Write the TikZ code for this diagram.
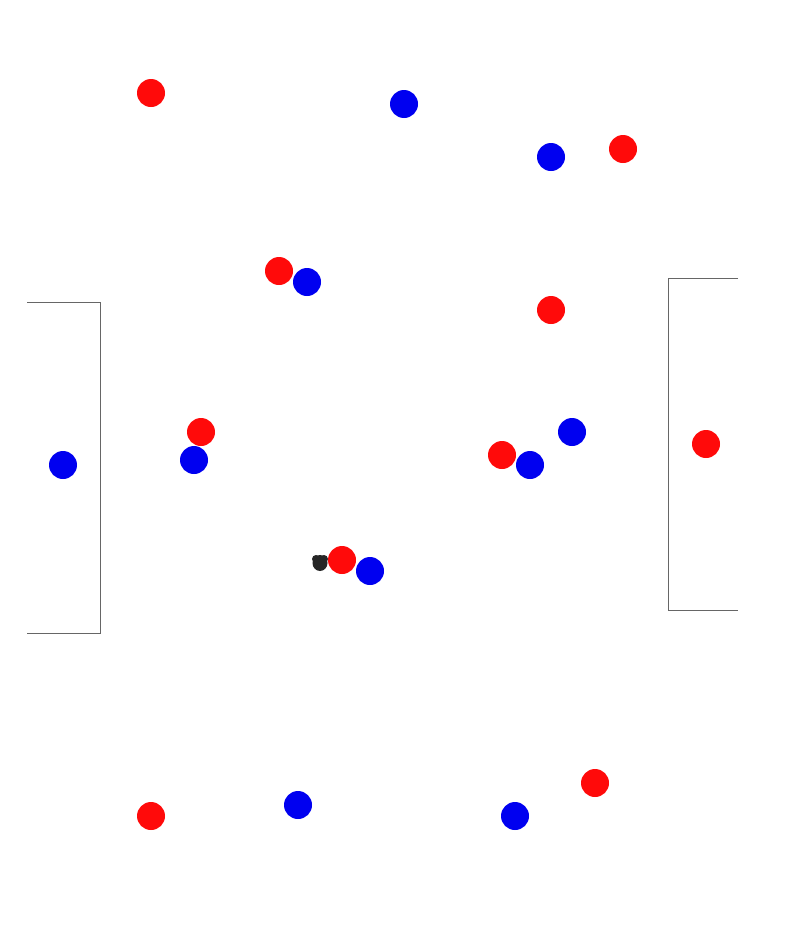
\documentclass[tikz,border=0pt]{standalone}
\usepackage{tikz,xcolor}
\definecolor{teamred}{RGB}{255,10,10}
\definecolor{teamblue}{RGB}{0,0,240}
\tikzset{redplayer/.style={circle,fill=teamred,inner sep=0pt,minimum size=28pt},
 blueplayer/.style={circle,fill=teamblue,inner sep=0pt,minimum size=28pt}}

\begin{document}
\begin{tikzpicture}[x=1pt,y=-1pt]
 \useasboundingbox[fill=white] (0,0) rectangle (797,929);
 % penalty boxes
 \draw[gray!80!black,line width=0.8pt] (27,302)--(100,302)--(100,633)--(27,633);
 \draw[gray!80!black,line width=0.8pt] (738,278)--(668,278)--(668,610)--(738,610);
 % players
 \foreach \x/\y [count=\i] in {151/93,623/149,279/271,551/310,201/432,502/455,706/444,342/560,151/816,595/783} \node[redplayer] (r\i) at (\x,\y) {};
 \foreach \x/\y [count=\i] in {404/104,551/157,307/282,63/465,194/460,572/432,530/465,370/571,298/805,515/816} \node[blueplayer] (b\i) at (\x,\y) {};
 % ball
 \fill[black!85] (320,563) ellipse (7.5 and 8);
 \fill[black!85] (316,559) circle (4); \fill[black!85] (324,559) circle (4);
\end{tikzpicture}
\end{document}
